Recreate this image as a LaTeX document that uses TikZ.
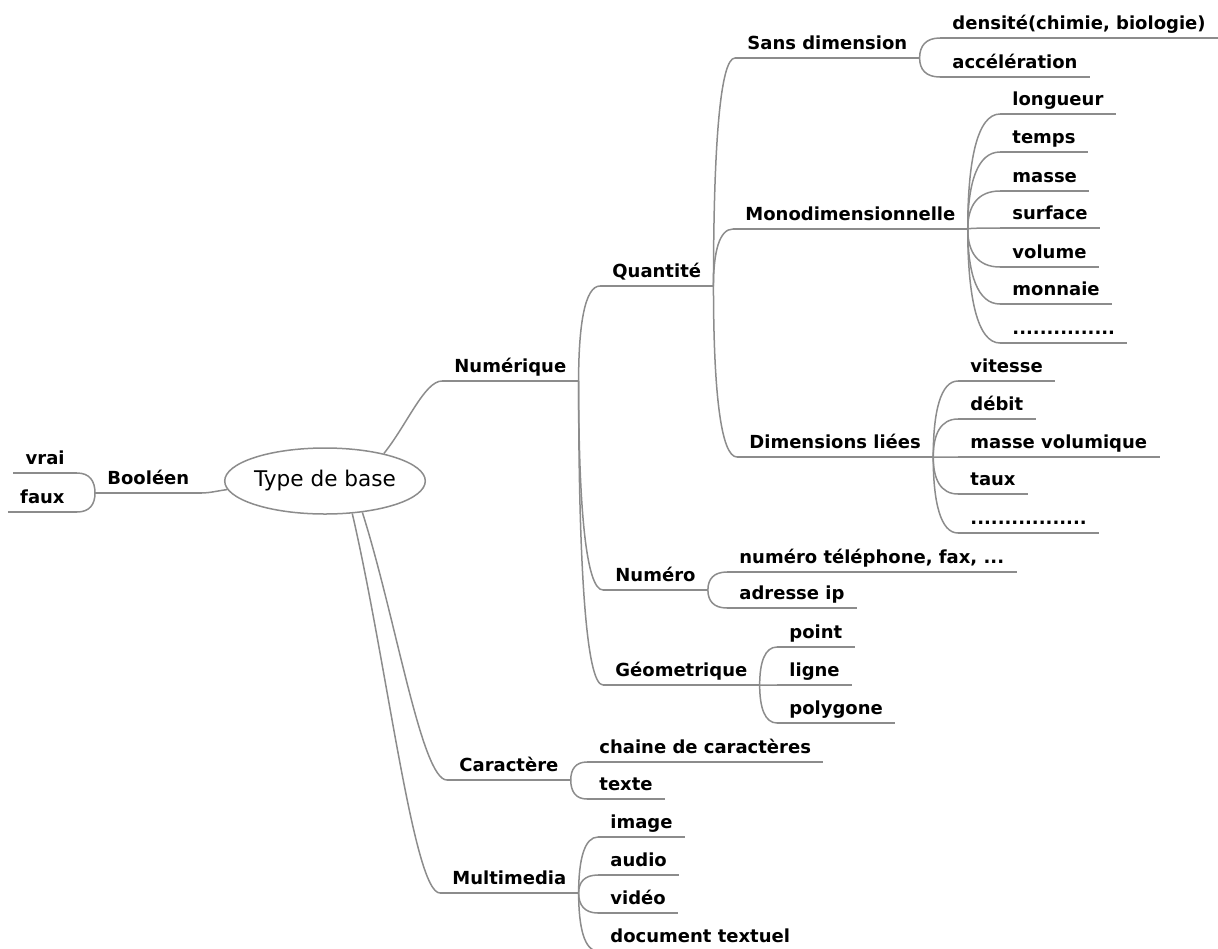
\documentclass[tikz,border=0pt]{standalone}
\usepackage{fontspec}
\setmainfont{DejaVu Sans}
\usepackage{tikz}
\usetikzlibrary{calc,shapes.geometric}

\tikzset{
  line/.style={draw=black!45,line width=0.75pt},
  topic/.style={anchor=south west,inner xsep=6pt,inner ysep=4pt,text depth=0pt,
                font=\bfseries\fontsize{9}{11}\selectfont},
  ltopic/.style={topic,anchor=south east},
  central/.style={ellipse,draw=black!45,line width=0.75pt,fill=white,
                  minimum width=93pt,minimum height=33pt,inner sep=0pt,
                  font=\fontsize{10.8}{13}\selectfont}
}

\begin{document}
\begin{tikzpicture}[x=0.5pt,y=-0.5pt]
 \useasboundingbox (0,0) rectangle (1218,948);
 \node[central] (root) at (325,481) {Type de base};
 % gauche
 \node[topic] (bool) at (95,493) {Booléen};
 \node[ltopic] (vrai) at (77,473) {vrai};
 \node[ltopic] (faux) at (77,512) {faux};
 % premier niveau
 \node[topic] (num) at (442,381) {Numérique};
 \node[topic] (car) at (447,780) {Caractère};
 \node[topic] (mm)  at (440,893) {Multimedia};
 % numerique
 \node[topic] (qty)  at (600,286) {Quantité};
 \node[topic] (numo) at (603,590) {Numéro};
 \node[topic] (geo)  at (603,685) {Géometrique};
 \node[topic] (sansd) at (735,58)  {Sans dimension};
 \node[topic] (mono)  at (733,229) {Monodimensionnelle};
 \node[topic] (diml)  at (737,457) {Dimensions liées};
 \node[topic] (dens)  at (940,38) {densité(chimie, biologie)};
 \node[topic] (accel) at (940,77) {accélération};
 \node[topic] (long)  at (1000,114) {longueur};
 \node[topic] (temps) at (1000,152) {temps};
 \node[topic] (masse) at (1000,191) {masse};
 \node[topic] (surf)  at (1000,228) {surface};
 \node[topic] (vol)   at (1000,267) {volume};
 \node[topic] (monn)  at (1000,304) {monnaie};
 \node[topic] (etcA)  at (1000,343) {...............};
 \node[topic] (vit)   at (958,381) {vitesse};
 \node[topic] (deb)   at (958,419) {débit};
 \node[topic] (mvol)  at (958,457) {masse volumique};
 \node[topic] (taux)  at (958,494) {taux};
 \node[topic] (etcB)  at (958,533) {.................};
 \node[topic] (tel)   at (727,572) {numéro téléphone, fax, ...};
 \node[topic] (ip)    at (727,608) {adresse ip};
 \node[topic] (pt)    at (777,647) {point};
 \node[topic] (lig)   at (777,685) {ligne};
 \node[topic] (poly)  at (777,723) {polygone};
 % caractere, multimedia
 \node[topic] (chn)   at (587,762) {chaine de caractères};
 \node[topic] (txt)   at (587,799) {texte};
 \node[topic] (img)   at (598,837) {image};
 \node[topic] (aud)   at (598,875) {audio};
 \node[topic] (vid)   at (598,913) {vidéo};
 \node[topic] (doc)   at (598,951) {document textuel};

 \foreach \n in {bool,vrai,faux,num,car,mm,qty,numo,geo,sansd,mono,diml,dens,accel,
   long,temps,masse,surf,vol,monn,etcA,vit,deb,mvol,taux,etcB,tel,ip,pt,lig,poly,
   chn,txt,img,aud,vid,doc}
   \draw[line] (\n.south west) -- (\n.south east);

 % liaisons depuis le centre
 \foreach \a/\b in {25/num,-40/car,-50/mm}
   \draw[line] (root.\a) .. controls ($(root.\a)!0.4!(\b.south west)$)
     and ($(\b.south west)!0.3!(root.\a|-\b.south west)$) .. (\b.south west);
 \draw[line] (root.185) .. controls ($(root.185)!0.4!(bool.south east)$)
   and ($(bool.south east)!0.3!(root.185|-bool.south east)$) .. (bool.south east);

 \foreach \c in {vrai,faux}
   \draw[line] (bool.south west) .. controls ($(bool.south west)!0.6!(bool.south west|-\c.south east)$)
     and ($(\c.south east)!0.7!(bool.south west|-\c.south east)$) .. (\c.south east);

 \foreach \p/\c in {num/qty,num/numo,num/geo,qty/sansd,qty/mono,qty/diml,
   sansd/dens,sansd/accel,mono/long,mono/temps,mono/masse,mono/surf,mono/vol,
   mono/monn,mono/etcA,diml/vit,diml/deb,diml/mvol,diml/taux,diml/etcB,
   numo/tel,numo/ip,geo/pt,geo/lig,geo/poly,car/chn,car/txt,
   mm/img,mm/aud,mm/vid,mm/doc}
   \draw[line] (\p.south east) .. controls ($(\p.south east)!0.6!(\p.south east|-\c.south west)$)
     and ($(\c.south west)!0.7!(\p.south east|-\c.south west)$) .. (\c.south west);
\end{tikzpicture}
\end{document}
